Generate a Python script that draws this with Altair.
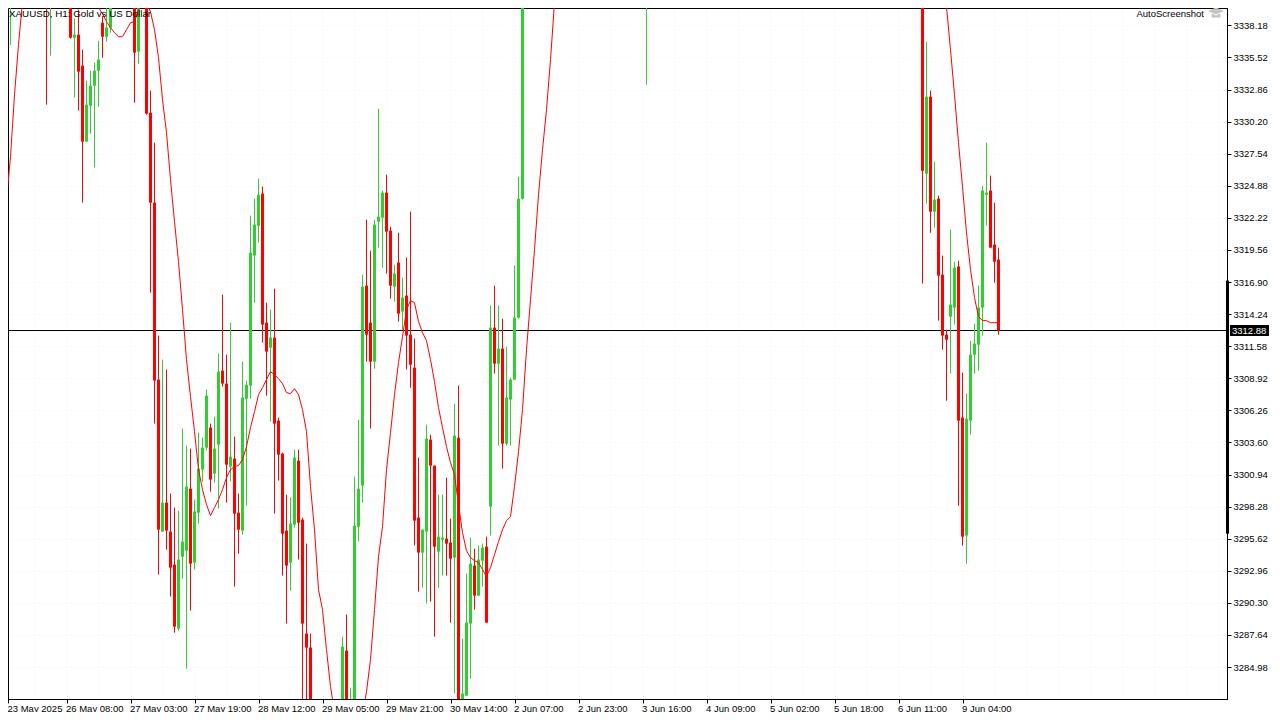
import json
import altair as alt
import pandas as pd

FONT = "Liberation Sans"
UP = "#32CD32"
DOWN = "#FF0000"

bars = [1,2,11,12,17,18,19,20,21,22,23,24,25,26,27,33,34,36,37,38,39,40,41,42,43,44,45,46,47,48,49,
        50,51,52,53,54,55,56,57,58,59,60,61,62,63,64,65,66,67,68,69,70,71,72,73,74,75,76,77,
        85,86,87,88,89,90,91,92,93,94,95,96,97,98,99,100,101,102,103,104,105,106,107,108,109,110,
        111,112,113,114,115,116,117,118,119,120,121,122,123,124,125,126,127,128,129,130,161,208,
        230,231,232,233,234,235,236,237,238,239,240,241,242,243,244,245,246,247,248,249]
opens = [3342,3341,3342,3341,3342,3337.16,3337.41,3334.84,3328.54,3331.52,3333.18,3334.42,3338.40,3337.24,3337.99,3342,3336.00,3342,3330.94,3323.48,3308.81,3296.21,3298.61,3296.21,3293.47,3288.17,3294.13,3294.63,3299.77,3293.64,3297.78,
         3301.35,3303.17,3304.83,3301.02,3303.42,3309.55,3308.48,3301.60,3302.26,3297.78,3296.29,3307.23,3308.31,3319.09,3321.57,3324.23,3313.53,3311.46,3312.29,3305.41,3302.67,3296.29,3293.64,3296.79,3302.09,3297.20,3287.75,3286.59,
         3281.5,3286.34,3281,3281.5,3296.62,3300.02,3316.60,3313.53,3310.30,3321.91,3322.24,3324.31,3321.16,3316.52,3318.51,3314.45,3315.77,3312.54,3309.80,3297.37,3294.47,3296.21,3303.83,3301.68,3294.55,3295.54,
         3295.63,3295.30,3294.05,3304.00,3281.5,3282.61,3288.58,3293.39,3290.90,3293.80,3294.96,3298.28,3313.12,3310.13,3311.38,3303.50,3307.15,3308.81,3313.95,3323.81,3341,3342,
         3342,3325.89,3332.27,3322.74,3323.81,3317.51,3312.54,3314.03,3314.78,3318.18,3305.66,3295.88,3305.41,3310.88,3311.71,3314.78,3324.14,3324.48,3320.00,3318.76]
highs = [3342.5,3342.5,3342.5,3342.5,3342.5,3338.73,3339.48,3336.16,3333.60,3334.42,3335.09,3336.91,3338.90,3339.81,3342.5,3342.5,3342.5,3342.5,3332.77,3328.46,3312.46,3310.47,3309.64,3299.36,3298.20,3297.95,3304.75,3303.34,3303.09,3298.86,3304.41,
         3304.00,3307.98,3305.16,3305.74,3310.96,3315.85,3310.88,3313.53,3304.08,3299.36,3310.30,3308.73,3322.40,3323.81,3325.47,3324.81,3315.19,3314.61,3316.35,3305.66,3302.76,3299.27,3299.03,3303.00,3303.00,3297.37,3295.21,3287.75,
         3287.50,3289.33,3283.27,3300.77,3305.49,3317.51,3322.07,3319.50,3322.07,3331.27,3324.48,3325.80,3321.49,3318.34,3320.99,3317.26,3318.92,3322.74,3312.21,3302.34,3296.37,3305.08,3304.25,3301.68,3299.27,3299.27,
         3300.68,3297.28,3306.82,3308.31,3287.34,3292.73,3295.71,3294.80,3295.05,3295.21,3295.79,3314.94,3316.60,3314.94,3313.86,3311.54,3308.97,3318.26,3325.64,3342.5,3342.5,3342.5,
         3342.5,3336.83,3332.77,3326.88,3324.06,3319.09,3312.95,3321.24,3318.59,3318.67,3309.39,3307.65,3312.04,3313.45,3316.60,3324.89,3328.46,3325.72,3323.48,3319.75]
lows = [3337.24,3336.58,3331.61,3335.67,3337.08,3332.19,3331.11,3323.48,3328.54,3329.20,3326.38,3331.44,3335.50,3336.83,3337.57,3331.77,3335.00,3330.78,3316.02,3305.16,3292.64,3296.21,3294.71,3290.82,3287.83,3288.00,3292.31,3284.85,3289.66,3293.06,3296.87,
        3300.35,3302.92,3299.52,3300.27,3298.11,3308.23,3298.61,3300.35,3291.65,3294.38,3295.96,3298.36,3307.23,3315.19,3320.17,3311.88,3307.48,3305.33,3297.70,3300.44,3292.56,3288.58,3291.32,3296.54,3293.89,3281,3281,3281,
        3281,3281,3280.5,3281,3295.38,3298.61,3310.30,3304.75,3309.72,3319.75,3318.09,3317.60,3315.52,3315.27,3313.62,3312.95,3309.64,3308.14,3295.05,3291.23,3291.56,3290.24,3290.40,3287.50,3291.56,3292.56,
        3292.56,3288.66,3282.78,3281,3281,3282.61,3284.02,3289.74,3290.90,3291.65,3288.66,3295.88,3309.31,3303.34,3301.43,3303.34,3303.34,3308.81,3313.86,3323.73,3333.26,3339.73,
        3316.77,3323.40,3320.99,3321.41,3313.70,3311.29,3307.07,3309.31,3313.37,3298.36,3295.05,3293.55,3304.25,3309.31,3309.55,3312.46,3321.57,3319.75,3316.85,3312.54]
closes = [3341,3342,3341,3342,3337.16,3337.41,3334.34,3328.54,3331.61,3333.18,3334.42,3335.34,3337.24,3337.99,3342,3335.92,3342,3330.86,3323.48,3308.73,3296.37,3298.61,3296.29,3293.22,3288.33,3293.89,3295.38,3299.94,3293.55,3297.87,3301.43,
          3303.17,3307.48,3300.52,3303.09,3309.47,3308.48,3301.76,3302.42,3297.70,3296.37,3307.32,3308.39,3319.34,3321.66,3324.14,3313.37,3311.13,3312.29,3305.16,3302.59,3296.04,3293.39,3296.87,3302.34,3296.95,3288.58,3286.59,3281.5,
          3286.67,3281.5,3281.5,3296.70,3299.77,3316.52,3312.54,3310.30,3321.66,3322.32,3324.31,3321.08,3316.60,3317.60,3314.28,3315.61,3312.46,3310.05,3297.12,3294.47,3296.37,3303.92,3301.68,3294.96,3295.79,3295.71,
          3295.21,3293.97,3304.17,3281.5,3282.78,3288.66,3293.55,3290.90,3293.89,3294.88,3288.66,3313.12,3310.13,3311.38,3303.50,3307.32,3308.81,3313.95,3323.81,3342,3342,3341,
          3326.13,3332.27,3322.74,3323.73,3317.43,3312.46,3312.12,3315.03,3318.09,3305.41,3295.79,3305.57,3310.88,3311.79,3314.78,3324.48,3324.31,3319.75,3318.59,3312.88]

ma_bars = [0,1,2,3,4,5,6,10,15,20,23,24,25,26,27,28,29,30,31,32,33,34,35,36,37,38,39,40,41,42,43,44,45,46,47,48,49,
           50,51,52,53,54,55,56,57,58,59,60,61,62,63,64,65,66,67,68,69,70,71,72,73,74,75,76,77,78,79,80,81,82,83,85,88,
           90,91,92,93,94,95,96,97,98,99,100,101,102,103,104,105,106,107,108,109,110,111,112,113,114,115,116,117,118,119,120,
           121,122,123,124,125,126,127,128,129,130,131,132,133,134,135,136,137,138,139,145,200,232,235,
           236,237,238,239,240,241,242,243,244,245,246,247,248,249]
ma_values = [3320.41,3323.73,3327.29,3332.43,3336.58,3340.14,3344,3352,3350,3342,3340.06,3339.65,3339.15,3338.49,3337.99,3337.57,3337.24,3337.24,3337.82,3338.40,3338.49,3339.48,3339.98,3340.06,3339.31,3337.82,3335.50,3332.02,3329.28,3325.39,3321.91,3318.59,3314.61,3310.47,3307.40,3304.50,3301.35,
             3299.69,3298.45,3297.53,3298.20,3298.86,3299.69,3300.68,3301.35,3301.60,3301.68,3302.18,3303.25,3304.83,3306.16,3307.56,3308.14,3308.81,3309.47,3309.22,3308.89,3308.48,3307.73,3307.65,3308.06,3307.56,3306.32,3304.50,3299.94,3296.37,3291.40,3289.74,3286.42,3283.36,3281.28,3276,3277,
             3281.04,3282.94,3285.60,3289.74,3294.13,3296.62,3301.35,3304.41,3307.56,3310.22,3312.37,3314.61,3315.36,3315.19,3313.62,3312.70,3312.04,3310.47,3308.64,3306.49,3304.83,3303.25,3301.93,3300.93,3298.45,3296.12,3294.63,3294.05,3293.80,3293.64,3293.06,
             3292.48,3293.22,3294.30,3295.38,3296.37,3297.12,3297.45,3299.94,3302.84,3306.32,3311.29,3315.44,3319.58,3324.14,3327.87,3331.19,3335.34,3340.06,3346,3360,3365,3352,3341.55,
             3339.73,3336.16,3332.43,3328.46,3324.81,3320.99,3317.93,3315.61,3314.03,3313.70,3313.70,3313.53,3313.53,3313.53]

price_ticks = [3338.18,3335.52,3332.86,3330.20,3327.54,3324.88,3322.22,3319.56,3316.90,3314.24,3311.58,3308.92,3306.26,3303.60,3300.94,3298.28,3295.62,3292.96,3290.30,3287.64,3284.98]
time_ticks = [1.375,16,32,48,64,80,96,112,128,144,160,176,192,208,224,240]
time_labels = ["23 May 2025","26 May 08:00","27 May 03:00","27 May 19:00","28 May 12:00","29 May 05:00","29 May 21:00","30 May 14:00",
               "2 Jun 07:00","2 Jun 23:00","3 Jun 16:00","4 Jun 09:00","5 Jun 02:00","5 Jun 18:00","6 Jun 11:00","9 Jun 04:00"]
grid_bars = [8,16,24,32,40,48,56,64,72,80,88,96,104,112,120,128,136,144,152,160,168,176,184,192,200,208,216,224,232,240,248,256,264,272,280,288,296,304]
last_price = [3312.88]
handle_span = [3317.02, 3296.04]

assert len({len(bars), len(opens), len(highs), len(lows), len(closes)}) == 1
assert len(ma_bars) == len(ma_values)

df = pd.DataFrame({"bar": bars, "open": opens, "high": highs, "low": lows, "close": closes})
df["dir"] = ["up" if c >= o else "down" for o, c in zip(opens, closes)]
ma_df = pd.DataFrame({"bar": ma_bars, "ma": ma_values})

W, H = 1219, 691
x_scale = alt.Scale(domain=[1.375, 306.125], nice=False, zero=False)
y_scale = alt.Scale(domain=[3282.33, 3339.62], nice=False, zero=False)
color = alt.Color("dir:N", scale=alt.Scale(domain=["up", "down"], range=[UP, DOWN]), legend=None)
label_map = json.dumps({str(v): l for v, l in zip(time_ticks, time_labels)})

x_axis = alt.Axis(values=time_ticks, labelExpr=f"{label_map}[toString(datum.value)]", title=None, grid=False, orient="bottom",
                  labelAlign="left", labelBaseline="middle", labelPadding=5, labelOverlap=False, labelBound=False, labelFlush=False,
                  labelFont=FONT, labelFontSize=9.5, labelColor="black", tickColor="black", tickSize=4, domainColor="black",
                  labelOffset=-1)
y_axis = alt.Axis(values=price_ticks, format=".2f", orient="right", title=None, grid=True, gridColor="#f2f2f2", gridDash=[1, 3],
                  labelFont=FONT, labelFontSize=9.5, labelColor="black", labelPadding=2, tickColor="black", tickSize=4, domainColor="black",
                  labelOverlap=False, labelBound=False)

X = alt.X("bar:Q", scale=x_scale, axis=x_axis)
Y = lambda f: alt.Y(f, type="quantitative", scale=y_scale, axis=y_axis)

grid_v = alt.Chart(pd.DataFrame({"bar": grid_bars})).mark_rule(color="#f2f2f2", strokeDash=[1, 3], strokeWidth=1).encode(
    x=X, y=alt.value(2), y2=alt.value(H - 1)
)
hline = alt.Chart(pd.DataFrame({"p": last_price})).mark_rule(color="black", strokeWidth=1).encode(y=Y("p"))
wicks = alt.Chart(df).mark_rule(strokeWidth=1, clip=True).encode(x=X, y=Y("high"), y2="low", color=color)
bodies = alt.Chart(df).mark_rule(strokeWidth=3, clip=True).encode(x=X, y=Y("open"), y2="close", color=color)
ma = alt.Chart(ma_df).mark_line(color=DOWN, strokeWidth=1, clip=True).encode(x=X, y=Y("ma"))

handle = alt.Chart(pd.DataFrame({"a": [handle_span[0]], "b": [handle_span[1]]})).mark_rule(color="black", strokeWidth=3).encode(
    x=alt.value(W + 0.5), y=Y("a"), y2="b"
)
tag = alt.Chart(pd.DataFrame({"p": last_price})).mark_rule(color="black", strokeWidth=11).encode(
    x=alt.value(W + 3), x2=alt.value(W + 42), y=Y("p")
)
tag_text = alt.Chart(pd.DataFrame({"p": last_price, "t": ["3312.88"]})).mark_text(
    color="white", font=FONT, fontSize=9.5, align="left", baseline="middle"
).encode(x=alt.value(W + 5), y=Y("p"), text="t:N")

title = alt.Chart(pd.DataFrame({"t": ["XAUUSD, H1:  Gold vs US Dollar"]})).mark_text(
    color="black", font=FONT, fontSize=9.8, align="left", baseline="middle"
).encode(x=alt.value(1), y=alt.value(6), text="t:N")
auto = alt.Chart(pd.DataFrame({"t": ["AutoScreenshot"]})).mark_text(
    color="black", font=FONT, fontSize=9.5, align="right", baseline="middle"
).encode(x=alt.value(1196), y=alt.value(6), text="t:N")
cap = alt.Chart(pd.DataFrame({"t": ["cap"]})).mark_point(
    shape="M-1,-0.25 L0,-0.7 L1,-0.25 L0,0.2 Z M-0.55,0.05 L0,0.3 L0.55,0.05 L0.55,0.55 L-0.55,0.55 Z",
    filled=True, color="#c4c4c4", size=256, opacity=1
).encode(x=alt.value(1208), y=alt.value(5))

chart = alt.layer(grid_v, hline, wicks, bodies, ma, handle, tag, tag_text, title, auto, cap).resolve_scale(
    x="shared", y="shared"
).properties(
    width=W, height=H, autosize=alt.AutoSizeParams(type="none"),
    padding={"left": 0, "top": 0, "right": 45, "bottom": 13},
    background="white"
).configure_view(stroke="black", strokeWidth=1)

chart.save("out.html", embed_options={"renderer": "svg", "actions": False})
